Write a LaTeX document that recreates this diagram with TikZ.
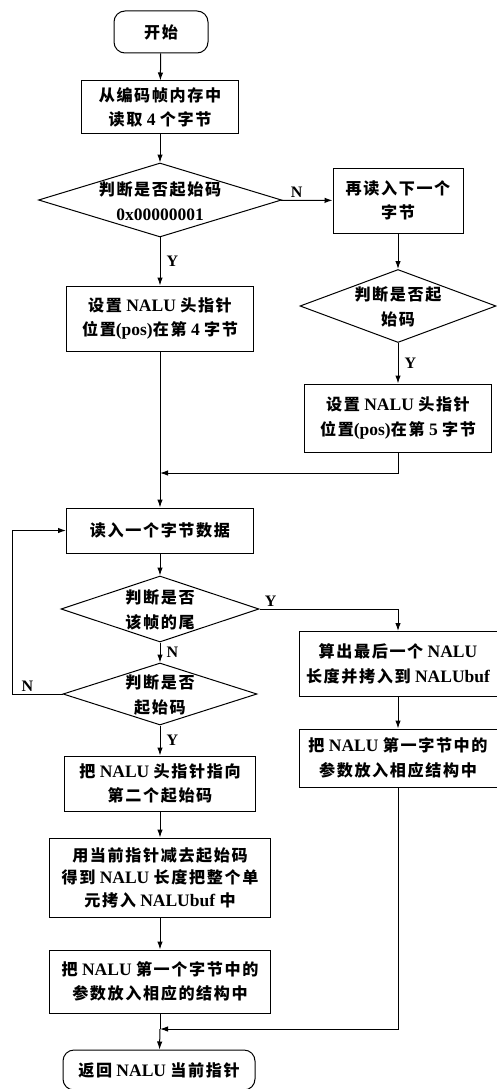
\documentclass[tikz,border=0pt]{standalone}
\usepackage{fontspec}
\setmainfont{Liberation Serif}
\newfontfamily\cjk{Noto Sans CJK SC}[LetterSpace=10,Scale=0.92]
\usetikzlibrary{shapes.geometric,arrows.meta}
\newcommand{\zh}[1]{{\cjk #1}}
\newcommand{\txtfont}{\bfseries\fontsize{17.5}{24.5}\selectfont}
\begin{document}
\begin{tikzpicture}[x=1pt,y=-1pt, line width=1pt,
  >={Latex[length=8pt,width=5.5pt]},
  box/.style={draw, rectangle, inner sep=0pt, align=center, font=\txtfont},
  term/.style={draw, rectangle, rounded corners=11pt, inner sep=0pt, align=center, font=\txtfont},
  dia/.style={draw, diamond, inner sep=0pt},
  txtn/.style={align=center, inner sep=0pt, font=\txtfont},
  lab/.style={font=\bfseries\fontsize{16}{16}\selectfont, inner sep=2pt}]
\useasboundingbox (0,0) rectangle (497,1089);
\node[term, minimum width=94pt, minimum height=42pt] (start) at (161,32) {\zh{开始}};
\node[box, minimum width=157pt, minimum height=53pt] (b1) at (160,107.5) {\zh{从编码帧内存中}\\\zh{读取} 4 \zh{个字节}};
\node[dia, minimum width=243pt, minimum height=74pt] (d1) at (160,200) {};
\node[txtn] (d1t) at (160,201) {\zh{判断是否起始码}\\0x00000001};
\node[box, minimum width=130pt, minimum height=65pt] (b2) at (398,200.5) {\zh{再读入下一个}\\\zh{字节}};
\node[dia, minimum width=196pt, minimum height=73pt] (d2) at (398,306) {};
\node[txtn] (d2t) at (398,307) {\zh{判断是否起}\\\zh{始码}};
\node[box, minimum width=187pt, minimum height=65pt] (b3) at (160,318.5) {\zh{设置} NALU \zh{头指针}\\\zh{位置}(pos)\zh{在第} 4 \zh{字节}};
\node[box, minimum width=187pt, minimum height=68pt] (b4) at (398,418) {\zh{设置} NALU \zh{头指针}\\\zh{位置}(pos)\zh{在第} 5 \zh{字节}};
\coordinate (j1) at (160,473);
\node[box, minimum width=187pt, minimum height=45pt] (b5) at (160,530.5) {\zh{读入一个字节数据}};
\node[dia, minimum width=198pt, minimum height=66pt] (d3) at (160,609) {};
\node[txtn] (d3t) at (160,610) {\zh{判断是否}\\\zh{该帧的尾}};
\node[dia, minimum width=194pt, minimum height=62pt] (d4) at (160,694) {};
\node[txtn] (d4t) at (160,695) {\zh{判断是否}\\\zh{起始码}};
\node[box, minimum width=198pt, minimum height=65pt] (b6) at (398,664) {\zh{算出最后一个} NALU\\\zh{长度并拷入到} NALUbuf};
\node[box, minimum width=191pt, minimum height=55pt] (b7) at (160,783.5) {\zh{把} NALU \zh{头指针指向}\\\zh{第二个起始码}};
\node[box, minimum width=198pt, minimum height=58pt] (b8) at (398,758) {\zh{把} NALU \zh{第一字节中的}\\\zh{参数放入相应结构中}};
\node[box, minimum width=221pt, minimum height=79pt, font=\bfseries\fontsize{17.5}{22.5}\selectfont] (b9) at (160,877.5) {\zh{用当前指针减去起始码}\\\zh{得到} NALU \zh{长度把整个单}\\\zh{元拷入} NALUbuf \zh{中}};
\node[box, minimum width=221pt, minimum height=63pt] (b10) at (160,981.5) {\zh{把} NALU \zh{第一个字节中的}\\\zh{参数放入相应的结构中}};
\coordinate (j2) at (160,1029);
\node[term, minimum width=192pt, minimum height=40pt] (end) at (159,1070) {\zh{返回} NALU \zh{当前指针}};

\draw[->] (start) -- (b1);
\draw[->] (b1) -- (d1);
\draw[->] (d1) -- node[lab, above, pos=0.3] {N} (b2);
\draw[->] (d1) -- node[lab, right, xshift=4pt] {Y} (b3);
\draw[->] (b2) -- (d2);
\draw[->] (d2) -- node[lab, right, xshift=4pt] {Y} (b4);
\draw (b3) -- (j1);
\draw[->] (b4.south) |- (j1);
\draw[->] (j1) -- (b5);
\draw[->] (b5) -- (d3);
\draw[->] (d3.east) -| node[lab, above, pos=0.04] {Y} (b6.north);
\draw[->] (d3) -- node[lab, right, xshift=4pt] {N} (d4);
\draw[->] (d4.west) -- node[lab, above, pos=0.7] {N} ++(-50,0) |- (b5.west);
\draw[->] (d4) -- node[lab, right, xshift=4pt] {Y} (b7);
\draw[->] (b7) -- (b9);
\draw[->] (b9) -- (b10);
\draw[->] (b6) -- (b8);
\draw[->] (b8.south) |- (j2);
\draw (b10) -- (j2);
\draw[->] (j2) -- (end);
\end{tikzpicture}
\end{document}
